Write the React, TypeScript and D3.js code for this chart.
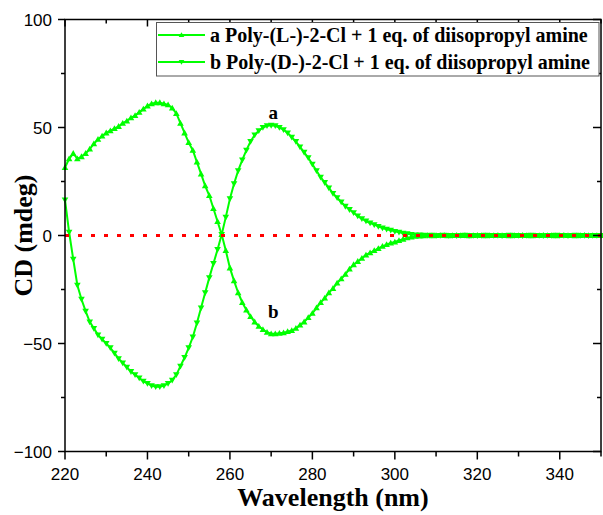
import React from "react";
import * as d3 from "d3";

const wavelengths: number[] = d3.range(220, 351);

// Series a: up-triangle markers
const seriesA: number[] = [
  31.5, 35.5, 38.0, 35.5, 36.5, 38.0, 40.0, 42.5, 44.5, 46.0,
  47.5, 48.5, 49.5, 50.5, 52.0, 53.0, 54.5, 55.5, 57.0, 58.5,
  60.0, 61.0, 61.5, 61.5, 61.0, 60.5, 59.0, 56.5, 52.0, 47.5,
  43.0, 39.5, 34.0, 28.5, 23.0, 18.5, 12.5, 6.5, 0.5, -7.0,
  -15.0, -21.0, -26.5, -31.0, -34.5, -37.5, -40.0, -42.0, -43.5, -44.8,
  -45.5, -45.5, -45.3, -45.0, -44.5, -44.0, -43.0, -41.5, -40.0, -38.0,
  -36.0, -33.5, -31.0, -29.0, -26.5, -24.5, -22.0, -20.0, -18.0, -15.5,
  -13.5, -12.0, -10.5, -9.0, -8.0, -7.0, -6.0, -5.0, -4.2, -3.5,
  -3.0, -2.3, -1.7, -1.1, -0.7, -0.4, -0.2, -0.1, 0.1, -0.1,
  0.0, 0.1, 0.0, -0.1, 0.0, 0.1, 0.0, 0.0, -0.1, 0.0,
  0.1, 0.0, -0.1, 0.0, 0.0, 0.1, 0.0, 0.0, -0.1, 0.0,
  0.0, 0.1, 0.0, -0.1, 0.0, 0.0, 0.1, 0.0, 0.0, -0.1,
  0.0, 0.1, 0.0, 0.0, -0.1, 0.0, 0.1, 0.0, 0.0, 0.0,
  0.0,
];

// Series b: down-triangle markers
const seriesB: number[] = [
  16.5, 1.5, -11.0, -23.0, -29.5, -35.0, -40.0, -43.0, -46.0, -48.0,
  -50.0, -52.0, -54.5, -57.0, -59.0, -61.0, -63.0, -64.5, -66.0, -67.5,
  -68.5, -69.5, -70.0, -70.0, -69.5, -68.5, -67.0, -64.5, -60.5, -56.5,
  -52.0, -47.0, -40.5, -33.5, -26.5, -19.5, -13.0, -6.5, 0.5, 8.5,
  17.0, 24.0, 30.0, 35.0, 39.5, 43.5, 46.5, 48.5, 50.0, 50.8,
  51.0, 50.8, 50.0, 49.0, 47.5, 45.5, 43.5, 41.0, 38.5, 36.0,
  33.0, 30.0, 27.0, 24.5, 22.0, 19.5, 17.5, 15.5, 13.5, 12.0,
  10.5, 9.0, 7.8, 6.7, 5.8, 5.0, 4.2, 3.5, 2.9, 2.4,
  1.9, 1.5, 1.1, 0.8, 0.5, 0.3, 0.2, 0.1, 0.0, 0.1,
  -0.1, 0.0, 0.1, 0.0, 0.0, -0.1, 0.0, 0.1, 0.0, 0.0,
  -0.1, 0.0, 0.1, 0.0, 0.0, 0.0, -0.1, 0.0, 0.1, 0.0,
  0.0, -0.1, 0.0, 0.1, 0.0, 0.0, -0.1, 0.0, 0.0, 0.1,
  0.0, 0.0, -0.1, 0.0, 0.1, 0.0, 0.0, -0.1, 0.0, 0.0,
  0.0,
];

const xMajorTicks = [220, 240, 260, 280, 300, 320, 340];
const xMinorTicks = [230, 250, 270, 290, 310, 330, 350];
const yMajorTicks = [-100, -50, 0, 50, 100];
const yMinorTicks = [-75, -25, 25, 75];
const legendLabels = [
  "a Poly-(L-)-2-Cl + 1 eq. of diisopropyl amine",
  "b Poly-(D-)-2-Cl + 1 eq. of diisopropyl amine",
];
const curveLabels = [
  { text: "a", x: 270.5, y: 54 },
  { text: "b", x: 270.5, y: -38 },
];

const W = 603;
const H = 515;
const L = 65, R = 601, T = 19.5, B = 451.5;
const GREEN = "#00ff00";
const SERIF = "'Liberation Serif', 'Times New Roman', serif";
const SANS = "'Liberation Sans', Arial, sans-serif";

function triUp(cx: number, cy: number, s = 3.3) {
  return `M${cx},${cy - s}L${cx + s},${cy + s * 0.75}L${cx - s},${cy + s * 0.75}Z`;
}
function triDown(cx: number, cy: number, s = 3.3) {
  return `M${cx},${cy + s}L${cx + s},${cy - s * 0.75}L${cx - s},${cy - s * 0.75}Z`;
}

export default function App() {
  const x = d3.scaleLinear().domain([220, 350]).range([L, R]);
  const y = d3.scaleLinear().domain([-100, 100]).range([B, T]);
  const line = d3
    .line<number>()
    .x((_, i) => x(wavelengths[i]))
    .y((d) => y(d));
  const fmt = (v: number) => (v < 0 ? "\u2212" + Math.abs(v) : String(v));

  return (
    <svg
      width={W}
      height={H}
      style={{ position: "absolute", left: 0, top: 0, background: "#fff" }}
    >
      <rect x={0} y={0} width={W} height={H} fill="#fff" />
      {/* curves */}
      <path d={line(seriesA) || ""} fill="none" stroke={GREEN} strokeWidth={2} />
      <path d={line(seriesB) || ""} fill="none" stroke={GREEN} strokeWidth={2} />
      {seriesA.map((v, i) => (
        <path key={"a" + i} d={triUp(x(wavelengths[i]), y(v))} fill={GREEN} />
      ))}
      {seriesB.map((v, i) => (
        <path key={"b" + i} d={triDown(x(wavelengths[i]), y(v))} fill={GREEN} />
      ))}
      {/* zero line */}
      <line
        x1={x(220)}
        x2={x(350)}
        y1={y(0)}
        y2={y(0)}
        stroke="#ff0000"
        strokeWidth={3}
        strokeDasharray="4 9"
      />
      {/* frame */}
      <rect x={L} y={T} width={R - L} height={B - T} fill="none" stroke="#000" strokeWidth={1.5} />
      {/* x ticks */}
      {xMajorTicks.map((t) => (
        <g key={"xm" + t}>
          <line x1={x(t)} x2={x(t)} y1={B} y2={B + 8} stroke="#000" strokeWidth={1.5} />
          <line x1={x(t)} x2={x(t)} y1={T} y2={T + 7} stroke="#000" strokeWidth={1.5} />
          <text x={x(t)} y={480} textAnchor="middle" fontFamily={SANS} fontSize={17} fill="#000">
            {t}
          </text>
        </g>
      ))}
      {xMinorTicks.map((t) => (
        <g key={"xn" + t}>
          <line x1={x(t)} x2={x(t)} y1={B} y2={B + 5} stroke="#000" strokeWidth={1.5} />
          <line x1={x(t)} x2={x(t)} y1={T} y2={T + 4} stroke="#000" strokeWidth={1.5} />
        </g>
      ))}
      {/* y ticks */}
      {yMajorTicks.map((t) => (
        <g key={"ym" + t}>
          <line x1={L - 7} x2={L} y1={y(t)} y2={y(t)} stroke="#000" strokeWidth={1.5} />
          <line x1={R - 8} x2={R} y1={y(t)} y2={y(t)} stroke="#000" strokeWidth={1.5} />
          <text x={52} y={y(t) + 6} textAnchor="end" fontFamily={SANS} fontSize={17} fill="#000">
            {fmt(t)}
          </text>
        </g>
      ))}
      {yMinorTicks.map((t) => (
        <g key={"yn" + t}>
          <line x1={L - 4} x2={L} y1={y(t)} y2={y(t)} stroke="#000" strokeWidth={1.5} />
          <line x1={R - 4} x2={R} y1={y(t)} y2={y(t)} stroke="#000" strokeWidth={1.5} />
        </g>
      ))}
      {/* axis titles */}
      <text
        x={(L + R) / 2}
        y={506}
        textAnchor="middle"
        fontFamily={SERIF}
        fontWeight="bold"
        fontSize={26}
        fill="#000"
      >
        Wavelength (nm)
      </text>
      <text
        transform={`translate(32,${(T + B) / 2}) rotate(-90)`}
        textAnchor="middle"
        fontFamily={SERIF}
        fontWeight="bold"
        fontSize={26}
        fill="#000"
      >
        CD (mdeg)
      </text>
      {/* curve labels */}
      {curveLabels.map((c) => (
        <text
          key={c.text}
          x={x(c.x)}
          y={y(c.y)}
          textAnchor="middle"
          fontFamily={SERIF}
          fontWeight="bold"
          fontSize={19}
          fill="#000"
        >
          {c.text}
        </text>
      ))}
      {/* legend */}
      <rect x={156.5} y={22.5} width={442.5} height={53.5} fill="#fff" stroke="#555" strokeWidth={1} />
      {legendLabels.map((lab, i) => {
        const ly = 35 + i * 27;
        return (
          <g key={lab}>
            <line x1={158} x2={205} y1={ly} y2={ly} stroke={GREEN} strokeWidth={2} />
            <path d={i === 0 ? triUp(181.5, ly, 2.8) : triDown(181.5, ly, 2.8)} fill={GREEN} />
            <text x={210} y={ly + 7} fontFamily={SERIF} fontWeight="bold" fontSize={20} fill="#000">
              {lab}
            </text>
          </g>
        );
      })}
    </svg>
  );
}
